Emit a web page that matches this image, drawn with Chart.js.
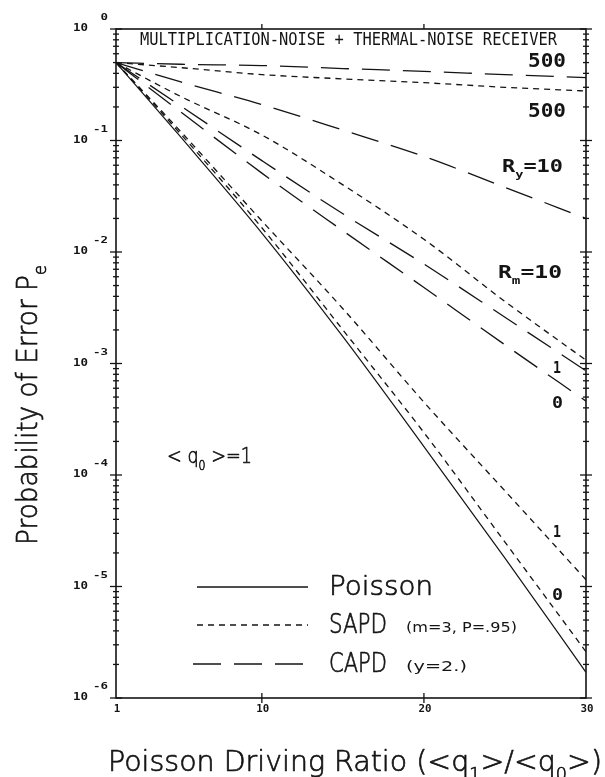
<!DOCTYPE html>
<html>
<head>
<meta charset="utf-8">
<script src="https://cdn.jsdelivr.net/npm/chart.js@4.4.1/dist/chart.umd.min.js"></script>
<style>
  html, body { margin: 0; padding: 0; background: #fff; overflow: hidden; }
  canvas { display: block; }
</style>
</head>
<body>
<canvas id="chartPe" width="605" height="777"></canvas>
<script>
// Poisson driving ratio <q1>/<q0>
const ratios = [1, 5, 10, 15, 20, 25, 30];

// probability of error
const poisson  = [0.5, 0.107, 0.0148, 1.74e-3, 1.8e-4, 1.8e-5, 1.7e-6];
const sapdR0   = [0.5, 0.114, 0.0165, 2.0e-3, 2.4e-4, 2.5e-5, 2.6e-6];
const sapdR1   = [0.5, 0.12, 0.019, 3.1e-3, 4.5e-4, 7.2e-5, 1.15e-5];
const sapdR10  = [0.5, 0.248, 0.112, 0.040, 0.013, 3.6e-3, 1.07e-3];
const sapdR500 = [0.5, 0.45, 0.39, 0.357, 0.33, 0.30, 0.278];
const capdR0   = [0.5, 0.18, 0.051, 0.0155, 4.8e-3, 1.47e-3, 4.6e-4];
const capdR1   = [0.5, 0.204, 0.066, 0.022, 7.8e-3, 2.6e-3, 8.6e-4];
const capdR10  = [0.5, 0.335, 0.21, 0.124, 0.072, 0.038, 0.02];
const capdR500 = [0.5, 0.483, 0.47, 0.442, 0.417, 0.39, 0.367];

const xTickValues = [1, 10, 20, 30];
const xTickLabels = ['1', '10', '20', '30'];
const yTickExps = [0, -1, -2, -3, -4, -5, -6];

const legendNames = ['Poisson', 'SAPD', 'CAPD'];
const legendNotes = ['', '(m=3, P=.95)', '(y=2.)'];

const INK = '#141414';
const SHORT_DASH = [6, 5];
const LONG_DASH = [28, 13];
const MONO = '"DejaVu Sans Mono", "Liberation Mono", monospace';
const SANS = '"DejaVu Sans", "Liberation Sans", sans-serif';

function pts(arr) {
    return ratios.map((r, i) => ({ x: r, y: arr[i] }));
}

function curve(arr, dash, width) {
    return {
        data: pts(arr),
        borderColor: INK,
        borderWidth: width || 1.3,
        borderDash: dash,
        pointRadius: 0,
        fill: false,
        cubicInterpolationMode: 'monotone'
    };
}

// draw a run of text parts (sub/sup aware) squeezed into a given width
function drawRich(ctx, parts, x, y, width, size, family, weight, stroke) {
    let w = 0;
    parts.forEach(p => {
        const s = (p.sub || p.sup) ? size * 0.62 : size;
        ctx.font = weight + ' ' + s + 'px ' + family;
        w += ctx.measureText(p.t).width;
    });
    ctx.save();
    ctx.translate(x, y);
    ctx.scale(width / w, 1);
    ctx.textAlign = 'left';
    ctx.textBaseline = 'alphabetic';
    ctx.lineWidth = stroke || 0;
    ctx.lineJoin = 'round';
    let cx = 0;
    parts.forEach(p => {
        const s = (p.sub || p.sup) ? size * 0.62 : size;
        ctx.font = weight + ' ' + s + 'px ' + family;
        const dy = p.sub ? size * 0.32 : (p.sup ? -size * 0.5 : 0);
        ctx.fillText(p.t, cx, dy);
        if (stroke) ctx.strokeText(p.t, cx, dy);
        cx += ctx.measureText(p.t).width;
    });
    ctx.restore();
}

const framePlugin = {
    id: 'frame',
    afterDraw(chart) {
        const ctx = chart.ctx;
        const xs = chart.scales.x;
        const ys = chart.scales.y;
        const a = chart.chartArea;
        ctx.save();
        ctx.strokeStyle = INK;
        ctx.fillStyle = INK;
        ctx.setLineDash([]);

        // frame
        ctx.lineWidth = 1.6;
        ctx.strokeRect(a.left, a.top, a.right - a.left, a.bottom - a.top);

        // y ticks, both sides, crossing the axis
        ctx.lineWidth = 1.3;
        yTickExps.forEach(e => {
            const py = ys.getPixelForValue(Math.pow(10, e));
            [a.left, a.right].forEach(ax => {
                ctx.beginPath();
                ctx.moveTo(ax - 6, py);
                ctx.lineTo(ax + 6, py);
                ctx.stroke();
            });
            if (e > -6) {
                for (let m = 2; m <= 9; m++) {
                    const my = ys.getPixelForValue(m * Math.pow(10, e - 1));
                    [a.left, a.right].forEach(ax => {
                        ctx.beginPath();
                        ctx.moveTo(ax - 3, my);
                        ctx.lineTo(ax + 3, my);
                        ctx.stroke();
                    });
                }
            }
            // label 10^e
            drawRich(ctx, [{ t: '10' }], 73, py + 2, 15, 11, MONO, 'bold');
            const ex = String(e);
            const ew = ex.length * 7.5;
            drawRich(ctx, [{ t: ex }], 108 - ew, py - 9, ew, 9, MONO, 'bold');
        });

        // x ticks
        xTickValues.forEach((v, i) => {
            const px = xs.getPixelForValue(v);
            if (v > 1 && v < 30) {
                ctx.beginPath();
                ctx.moveTo(px, a.bottom - 5);
                ctx.lineTo(px, a.bottom + 5);
                ctx.moveTo(px, a.top - 5);
                ctx.lineTo(px, a.top);
                ctx.stroke();
            }
            const lbl = xTickLabels[i];
            const lw = lbl.length * 6.5;
            drawRich(ctx, [{ t: lbl }], px - lw / 2 + 1, a.bottom + 14, lw, 10, MONO, 'bold');
        });

        // title inside the frame
        drawRich(ctx, [{ t: 'MULTIPLICATION-NOISE + THERMAL-NOISE RECEIVER' }], 140, 45, 417, 17, MONO, 'normal');

        // curve labels
        drawRich(ctx, [{ t: '500' }], 528, 67, 38, 19, MONO, 'bold');
        drawRich(ctx, [{ t: '500' }], 528, 117, 38, 19, MONO, 'bold');
        drawRich(ctx, [{ t: 'R' }, { t: 'y', sub: true }, { t: '=10' }], 502, 172, 61, 18, MONO, 'bold');
        drawRich(ctx, [{ t: 'R' }, { t: 'm', sub: true }, { t: '=10' }], 498, 278, 64, 18, MONO, 'bold');
        drawRich(ctx, [{ t: '1' }], 553, 373, 8, 16, MONO, 'bold');
        drawRich(ctx, [{ t: '0' }], 552, 408, 11, 16, MONO, 'bold');
        drawRich(ctx, [{ t: '1' }], 553, 537, 8, 16, MONO, 'bold');
        drawRich(ctx, [{ t: '0' }], 552, 600, 11, 16, MONO, 'bold');

        // <q0>=1
        drawRich(ctx, [{ t: '< q' }, { t: '0', sub: true }, { t: ' >=1' }], 167, 463, 85, 22, SANS, '300', 0.7);

        // legend
        const legY = [587, 625, 664];
        const legDash = [[], SHORT_DASH, LONG_DASH];
        legendNames.forEach((name, i) => {
            ctx.lineWidth = 1.3;
            ctx.setLineDash(legDash[i]);
            ctx.beginPath();
            ctx.moveTo(i === 2 ? 193 : 197, legY[i]);
            ctx.lineTo(308, legY[i]);
            ctx.stroke();
            ctx.setLineDash([]);
            const nw = i === 0 ? 104 : 58;
            drawRich(ctx, [{ t: name }], 329, legY[i] + 8, nw, 27, SANS, '300', 0.7);
            if (legendNotes[i]) {
                const tw = i === 1 ? 111 : 61;
                drawRich(ctx, [{ t: legendNotes[i] }], 406, legY[i] + 7, tw, 14, SANS, 'normal');
            }
        });

        // axis titles
        drawRich(ctx, [{ t: 'Poisson Driving Ratio (<q' }, { t: '1', sub: true }, { t: '>/<q' }, { t: '0', sub: true }, { t: '>)' }],
            108, 771, 494, 29, SANS, '300', 0.7);
        ctx.save();
        ctx.translate(37, 545);
        ctx.rotate(-Math.PI / 2);
        drawRich(ctx, [{ t: 'Probability of Error P' }, { t: 'e', sub: true }], 0, 0, 280, 29, SANS, '300', 0.7);
        ctx.restore();

        ctx.restore();
    }
};

const config = {
    type: 'line',
    data: {
        datasets: [
            curve(poisson, [], 1.2),
            curve(sapdR0, SHORT_DASH),
            curve(sapdR1, SHORT_DASH),
            curve(sapdR10, SHORT_DASH),
            curve(sapdR500, SHORT_DASH),
            curve(capdR0, LONG_DASH),
            curve(capdR1, LONG_DASH),
            curve(capdR10, LONG_DASH),
            curve(capdR500, LONG_DASH)
        ]
    },
    options: {
        responsive: false,
        animation: false,
        devicePixelRatio: 1,
        layout: {
            padding: { left: 116, right: 19, top: 29, bottom: 79 }
        },
        plugins: {
            legend: { display: false },
            tooltip: { enabled: false },
            title: { display: false }
        },
        scales: {
            x: { type: 'linear', min: 1, max: 30, display: false },
            y: { type: 'logarithmic', min: 1e-6, max: 1, display: false }
        }
    },
    plugins: [framePlugin]
};

let ctx = document.getElementById('chartPe').getContext('2d');
new Chart(ctx, config);
</script>
</body>
</html>
